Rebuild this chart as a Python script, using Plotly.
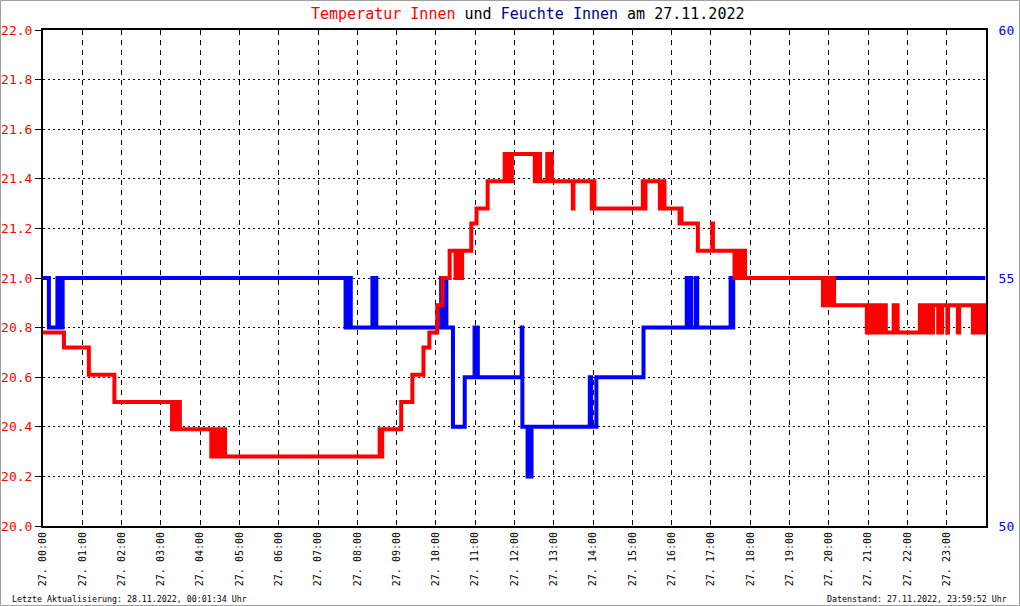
import pandas as pd
import plotly.graph_objects as go

DAY = "2022-11-27"

# Temperatur Innen (°C) - change points (time, value), drawn as steps
temp_times = [
    "00:00", "00:32", "01:10", "01:49", "03:17", "03:19", "03:21", "03:23", "03:25", "03:27", "03:29",
    "04:17", "04:20", "04:25", "04:31", "04:33", "04:35", "04:38",
    "08:34", "08:36", "08:38", "09:07", "09:24", "09:41", "09:50", "10:02", "10:10", "10:21",
    "10:30", "10:32", "10:34", "10:36", "10:38", "10:40", "10:54", "11:02", "11:19",
    "11:45", "11:47", "11:49", "11:51", "11:53", "11:55", "11:56",
    "12:31", "12:33", "12:35", "12:37", "12:39", "12:50", "12:52", "12:54", "12:57",
    "13:29", "13:30", "13:58", "14:00", "14:02", "15:16", "15:18", "15:20",
    "15:42", "15:44", "15:46", "15:48", "15:49", "16:12", "16:13", "16:15", "16:40",
    "17:02", "17:03", "17:36", "17:38", "17:40", "17:42", "17:44", "17:46", "17:48", "17:50", "17:52",
    "19:51", "19:53", "19:55", "19:57", "19:59", "20:05", "20:08",
    "20:58", "21:00", "21:02", "21:05", "21:07", "21:10", "21:15", "21:17", "21:20", "21:21",
    "21:23", "21:25", "21:27", "21:39", "21:41", "21:43", "21:45",
    "22:19", "22:21", "22:23", "22:25", "22:27", "22:29", "22:31", "22:33", "22:35", "22:37", "22:39",
    "22:47", "22:49", "22:51", "22:53", "23:01", "23:02", "23:17", "23:19",
    "23:40", "23:42", "23:44", "23:47", "23:49", "23:52", "23:54", "23:57", "23:59",
]
temp_values = [
    20.78, 20.72, 20.61, 20.50, 20.39, 20.50, 20.39, 20.50, 20.39, 20.50, 20.39,
    20.28, 20.39, 20.28, 20.39, 20.28, 20.39, 20.28,
    20.39, 20.28, 20.39, 20.50, 20.61, 20.72, 20.78, 20.89, 21.00, 21.11,
    21.00, 21.11, 21.00, 21.11, 21.00, 21.11, 21.22, 21.28, 21.39,
    21.50, 21.39, 21.50, 21.39, 21.50, 21.39, 21.50,
    21.39, 21.50, 21.39, 21.50, 21.39, 21.50, 21.39, 21.50, 21.39,
    21.28, 21.39, 21.28, 21.39, 21.28, 21.39, 21.28, 21.39,
    21.28, 21.39, 21.28, 21.39, 21.28, 21.22, 21.28, 21.22, 21.11,
    21.22, 21.11, 21.00, 21.11, 21.00, 21.11, 21.00, 21.11, 21.00, 21.11, 21.00,
    20.89, 21.00, 20.89, 21.00, 20.89, 21.00, 20.89,
    20.78, 20.89, 20.78, 20.89, 20.78, 20.89, 20.78, 20.89, 20.78, 20.89,
    20.78, 20.89, 20.78, 20.89, 20.78, 20.89, 20.78,
    20.89, 20.78, 20.89, 20.78, 20.89, 20.78, 20.89, 20.78, 20.89, 20.78, 20.89,
    20.78, 20.89, 20.78, 20.89, 20.78, 20.89, 20.78, 20.89,
    20.78, 20.89, 20.78, 20.89, 20.78, 20.89, 20.78, 20.89, 20.78,
]

# Feuchte Innen (%) - change points
hum_times = [
    "00:00", "00:09", "00:22", "00:24", "00:26", "00:28", "00:30",
    "07:42", "07:44", "07:46", "07:48", "07:50", "08:23", "08:25", "08:27", "08:29",
    "10:08", "10:10", "10:13", "10:16", "10:26", "10:44", "10:59", "11:01", "11:03", "11:04",
    "12:11", "12:12", "12:20", "12:22", "12:24", "12:26", "13:55", "13:57", "14:05",
    "15:17", "16:23", "16:25", "16:27", "16:30", "16:37", "16:39", "17:30", "17:32", "17:34", "23:59",
]
hum_values = [
    55, 54, 55, 54, 55, 54, 55,
    54, 55, 54, 55, 54, 55, 54, 55, 54,
    55, 54, 55, 54, 52, 53, 54, 53, 54, 53,
    54, 52, 51, 52, 51, 52, 53, 52, 53,
    54, 55, 54, 55, 54, 55, 54, 55, 54, 55, 55,
]

hour_ticks = [f"{h:02d}:00" for h in range(24)]
tick_labels = [f"27. {t}" for t in hour_ticks]

def ts(lst):
    return pd.to_datetime([f"{DAY} {t}" for t in lst])

fig = go.Figure()
# humidity on base axis (right side), temperature on overlaying axis (left side) so red is on top
fig.add_trace(go.Scatter(x=ts(hum_times), y=hum_values, mode="lines", line_shape="hv",
                         line=dict(color="#0000ff", width=4), yaxis="y", showlegend=False))
fig.add_trace(go.Scatter(x=ts(temp_times), y=temp_values, mode="lines", line_shape="hv",
                         line=dict(color="#ff0000", width=4), yaxis="y2", showlegend=False))

MONO = "DejaVu Sans Mono, Liberation Mono, monospace"

fig.update_layout(
    width=1020, height=606,
    margin=dict(l=43, r=34, t=30, b=80),
    paper_bgcolor="white", plot_bgcolor="white",
    font=dict(family=MONO, color="black"),
    xaxis=dict(
        range=[pd.Timestamp(f"{DAY} 00:00"), pd.Timestamp("2022-11-28 00:00")],
        tickvals=ts(hour_ticks), ticktext=tick_labels, tickangle=-90,
        tickfont=dict(family=MONO, size=10, color="black"),
        showgrid=True, gridcolor="black", griddash="5px,5px", gridwidth=1,
        showline=True, linecolor="black", linewidth=2, mirror=True, ticks="",
        zeroline=False, automargin=False,
    ),
    yaxis=dict(
        range=[50, 60], tickvals=[50, 55, 60], side="right",
        tickfont=dict(family=MONO, size=13, color="#0000ff"),
        showgrid=False, showline=True, linecolor="black", linewidth=2,
        ticks="", zeroline=False, automargin=False, ticklabelstandoff=8,
    ),
    yaxis2=dict(
        range=[20.0, 22.0], dtick=0.2, tick0=20.0, tickformat=".1f",
        overlaying="y", side="left",
        tickfont=dict(family=MONO, size=13, color="#ff0000"),
        showgrid=True, gridcolor="black", griddash="2px,3px", gridwidth=1,
        showline=True, linecolor="black", linewidth=2,
        ticks="outside", ticklen=6, tickcolor="black", zeroline=False, automargin=False,
    ),
    annotations=[
        dict(text='<span style="color:#ff0000">Temperatur Innen</span> und '
                  '<span style="color:#000080">Feuchte Innen</span> am 27.11.2022',
             xref="paper", yref="paper", x=(527.5 - 43) / 943, y=(526 - 14) / 496,
             xanchor="center", yanchor="middle", showarrow=False,
             font=dict(family=MONO, size=15, color="black")),
        dict(text="Letzte Aktualisierung: 28.11.2022, 00:01:34 Uhr",
             xref="paper", yref="paper", x=(10 - 43) / 943, y=(526 - 599) / 496,
             xanchor="left", yanchor="middle", showarrow=False,
             font=dict(family=MONO, size=8.3, color="black")),
        dict(text="Datenstand: 27.11.2022, 23:59:52 Uhr",
             xref="paper", yref="paper", x=(1009 - 43) / 943, y=(526 - 599) / 496,
             xanchor="right", yanchor="middle", showarrow=False,
             font=dict(family=MONO, size=8.3, color="black")),
    ],
    shapes=[
        dict(type="rect", xref="paper", yref="paper",
             x0=(0.5 - 43) / 943, x1=(1019.5 - 43) / 943,
             y0=(526 - 605.5) / 496, y1=(526 - 0.5) / 496,
             line=dict(color="#a0a0a0", width=1), fillcolor="rgba(0,0,0,0)", layer="below"),
    ],
)

fig.write_html("out.html", config={"displayModeBar": False},
               post_script="document.body.style.margin='0';")
